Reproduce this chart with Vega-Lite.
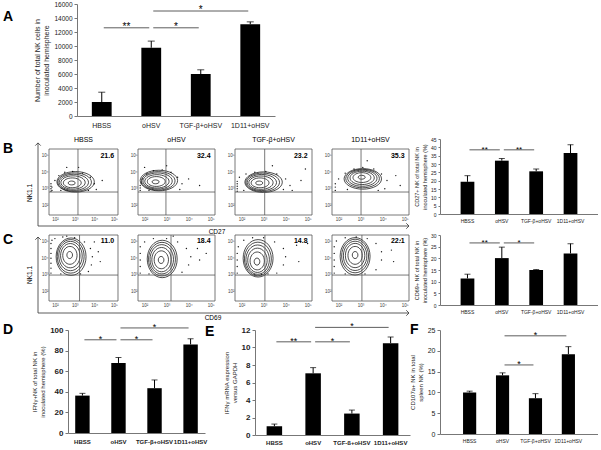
{
"$schema": "https://vega.github.io/schema/vega-lite/v6.json",
"padding": {"left": 3, "top": 1, "right": 0, "bottom": 0},
"background": "white",
"config": {
  "font": "Liberation Sans",
  "view": {"stroke": null},
  "mark": {"color": "#000"},
  "text": {"color": "#000"},
  "axis": {"grid": false, "labelColor": "#222", "titleColor": "#222", "domainColor": "#777", "tickColor": "#777", "titleFontWeight": "normal", "labelOverlap": false, "labelFlush": false}
},
"datasets": {
  "one": [{"k": 1}],
  "bars": [
    {"panel": "A", "group": "HBSS", "value": 2000, "upper": 3400},
    {"panel": "A", "group": "oHSV", "value": 9750, "upper": 10700},
    {"panel": "A", "group": "TGF-β+oHSV", "value": 6000, "upper": 6600},
    {"panel": "A", "group": "1D11+oHSV", "value": 13100, "upper": 13450},
    {"panel": "B", "group": "HBSS", "value": 19.3, "upper": 23},
    {"panel": "B", "group": "oHSV", "value": 32, "upper": 33.3},
    {"panel": "B", "group": "TGF-β+oHSV", "value": 25.6, "upper": 27},
    {"panel": "B", "group": "1D11+oHSV", "value": 36.6, "upper": 41.6},
    {"panel": "C", "group": "HBSS", "value": 11.4, "upper": 13.2},
    {"panel": "C", "group": "oHSV", "value": 20.1, "upper": 24.8},
    {"panel": "C", "group": "TGF-β+oHSV", "value": 15, "upper": 15.2},
    {"panel": "C", "group": "1D11+oHSV", "value": 22.1, "upper": 26.3},
    {"panel": "D", "group": "HBSS", "value": 36.3, "upper": 38.5},
    {"panel": "D", "group": "oHSV", "value": 68, "upper": 73.3},
    {"panel": "D", "group": "TGF-β+oHSV", "value": 43.5, "upper": 51.5},
    {"panel": "D", "group": "1D11+oHSV", "value": 86, "upper": 91.5},
    {"panel": "E", "group": "HBSS", "value": 1.0, "upper": 1.25},
    {"panel": "E", "group": "oHSV", "value": 7.05, "upper": 7.7},
    {"panel": "E", "group": "TGF-β+oHSV", "value": 2.45, "upper": 2.85},
    {"panel": "E", "group": "1D11+oHSV", "value": 10.5, "upper": 11.2},
    {"panel": "F", "group": "HBSS", "value": 10, "upper": 10.3},
    {"panel": "F", "group": "oHSV", "value": 14.1, "upper": 14.7},
    {"panel": "F", "group": "TGF-β+oHSV", "value": 8.6, "upper": 9.7},
    {"panel": "F", "group": "1D11+oHSV", "value": 19.2, "upper": 21}
  ],
  "sig": [
    {"panel": "A", "from": "HBSS", "to": "oHSV", "y": 12600, "label": "**", "at": "HBSS", "kind": "adj"},
    {"panel": "A", "from": "oHSV", "to": "TGF-β+oHSV", "y": 12600, "label": "*", "at": "oHSV", "kind": "adj"},
    {"panel": "A", "from": "oHSV", "to": "1D11+oHSV", "y": 15000, "label": "*", "at": "TGF-β+oHSV", "kind": "mid"},
    {"panel": "B", "from": "HBSS", "to": "oHSV", "y": 38.5, "label": "**", "at": "HBSS", "kind": "adj"},
    {"panel": "B", "from": "oHSV", "to": "TGF-β+oHSV", "y": 38.5, "label": "**", "at": "oHSV", "kind": "adj"},
    {"panel": "C", "from": "HBSS", "to": "oHSV", "y": 26.6, "label": "**", "at": "HBSS", "kind": "adj"},
    {"panel": "C", "from": "oHSV", "to": "TGF-β+oHSV", "y": 26.6, "label": "*", "at": "oHSV", "kind": "adj"},
    {"panel": "D", "from": "HBSS", "to": "oHSV", "y": 90.5, "label": "*", "at": "HBSS", "kind": "adj"},
    {"panel": "D", "from": "oHSV", "to": "TGF-β+oHSV", "y": 90.5, "label": "*", "at": "oHSV", "kind": "adj"},
    {"panel": "D", "from": "oHSV", "to": "1D11+oHSV", "y": 102, "label": "*", "at": "TGF-β+oHSV", "kind": "mid"},
    {"panel": "E", "from": "HBSS", "to": "oHSV", "y": 10.65, "label": "**", "at": "HBSS", "kind": "adj"},
    {"panel": "E", "from": "oHSV", "to": "TGF-β+oHSV", "y": 10.65, "label": "*", "at": "oHSV", "kind": "adj"},
    {"panel": "E", "from": "oHSV", "to": "1D11+oHSV", "y": 12.3, "label": "*", "at": "TGF-β+oHSV", "kind": "mid"},
    {"panel": "F", "from": "oHSV", "to": "TGF-β+oHSV", "y": 16.6, "label": "*", "at": "oHSV", "kind": "adj"},
    {"panel": "F", "from": "oHSV", "to": "1D11+oHSV", "y": 23.6, "label": "*", "at": "TGF-β+oHSV", "kind": "mid"}
  ],
  "gates": [
    {"plot": "B1", "gx": 3.17, "gy": 2.8, "pct": "21.6", "title": "HBSS"},
    {"plot": "B2", "gx": 2.97, "gy": 2.8, "pct": "32.4", "title": "oHSV"},
    {"plot": "B3", "gx": 3.05, "gy": 2.8, "pct": "23.2", "title": "TGF-β+oHSV"},
    {"plot": "B4", "gx": 3.02, "gy": 2.8, "pct": "35.3", "title": "1D11+oHSV"},
    {"plot": "C1", "gx": 3.25, "gy": 2.98, "pct": "11.0", "title": ""},
    {"plot": "C2", "gx": 3.2, "gy": 2.98, "pct": "18.4", "title": ""},
    {"plot": "C3", "gx": 3.06, "gy": 2.98, "pct": "14.8", "title": ""},
    {"plot": "C4", "gx": 3.06, "gy": 2.98, "pct": "22.1", "title": ""}
  ],
  "contours": [
    {"plot": "B1", "cx": 3.05, "cy": 3.42, "level": 1}, {"plot": "B1", "cx": 3.0, "cy": 3.4, "level": 2}, {"plot": "B1", "cx": 2.96, "cy": 3.39, "level": 3}, {"plot": "B1", "cx": 2.92, "cy": 3.38, "level": 4}, {"plot": "B1", "cx": 2.88, "cy": 3.36, "level": 5}, {"plot": "B1", "cx": 2.85, "cy": 3.35, "level": 6},
    {"plot": "B2", "cx": 2.65, "cy": 3.5, "level": 1}, {"plot": "B2", "cx": 2.62, "cy": 3.48, "level": 2}, {"plot": "B2", "cx": 2.59, "cy": 3.47, "level": 3}, {"plot": "B2", "cx": 2.56, "cy": 3.45, "level": 4}, {"plot": "B2", "cx": 2.53, "cy": 3.44, "level": 5}, {"plot": "B2", "cx": 2.5, "cy": 3.42, "level": 6},
    {"plot": "B3", "cx": 3.0, "cy": 3.4, "level": 1}, {"plot": "B3", "cx": 2.96, "cy": 3.39, "level": 2}, {"plot": "B3", "cx": 2.92, "cy": 3.38, "level": 3}, {"plot": "B3", "cx": 2.88, "cy": 3.37, "level": 4}, {"plot": "B3", "cx": 2.84, "cy": 3.36, "level": 5}, {"plot": "B3", "cx": 2.8, "cy": 3.35, "level": 6},
    {"plot": "B4", "cx": 3.1, "cy": 3.6, "level": 1}, {"plot": "B4", "cx": 3.09, "cy": 3.62, "level": 2}, {"plot": "B4", "cx": 3.08, "cy": 3.64, "level": 3}, {"plot": "B4", "cx": 3.07, "cy": 3.66, "level": 4}, {"plot": "B4", "cx": 3.06, "cy": 3.68, "level": 5}, {"plot": "B4", "cx": 3.05, "cy": 3.7, "level": 6},
    {"plot": "C1", "cx": 2.82, "cy": 4.1, "level": 1}, {"plot": "C1", "cx": 2.8, "cy": 4.12, "level": 2}, {"plot": "C1", "cx": 2.79, "cy": 4.14, "level": 3}, {"plot": "C1", "cx": 2.78, "cy": 4.16, "level": 4}, {"plot": "C1", "cx": 2.76, "cy": 4.18, "level": 5}, {"plot": "C1", "cx": 2.75, "cy": 4.2, "level": 6},
    {"plot": "C2", "cx": 2.8, "cy": 3.96, "level": 1}, {"plot": "C2", "cx": 2.79, "cy": 3.95, "level": 2}, {"plot": "C2", "cx": 2.78, "cy": 3.94, "level": 3}, {"plot": "C2", "cx": 2.77, "cy": 3.92, "level": 4}, {"plot": "C2", "cx": 2.76, "cy": 3.91, "level": 5}, {"plot": "C2", "cx": 2.75, "cy": 3.9, "level": 6},
    {"plot": "C3", "cx": 2.75, "cy": 4.0, "level": 1}, {"plot": "C3", "cx": 2.74, "cy": 3.96, "level": 2}, {"plot": "C3", "cx": 2.73, "cy": 3.92, "level": 3}, {"plot": "C3", "cx": 2.72, "cy": 3.88, "level": 4}, {"plot": "C3", "cx": 2.71, "cy": 3.84, "level": 5}, {"plot": "C3", "cx": 2.7, "cy": 3.8, "level": 6},
    {"plot": "C4", "cx": 2.75, "cy": 4.12, "level": 1}, {"plot": "C4", "cx": 2.75, "cy": 4.14, "level": 2}, {"plot": "C4", "cx": 2.75, "cy": 4.15, "level": 3}, {"plot": "C4", "cx": 2.75, "cy": 4.17, "level": 4}, {"plot": "C4", "cx": 2.75, "cy": 4.18, "level": 5}, {"plot": "C4", "cx": 2.75, "cy": 4.2, "level": 6}
  ],
  "dots": [
    {"plot": "B1", "x": 1.8, "y": 2.85}, {"plot": "B1", "x": 1.8, "y": 3.0}, {"plot": "B1", "x": 1.8, "y": 3.15}, {"plot": "B1", "x": 1.8, "y": 3.3}, {"plot": "B1", "x": 1.85, "y": 2.9}, {"plot": "B1", "x": 1.85, "y": 3.1}, {"plot": "B1", "x": 2.0, "y": 3.5}, {"plot": "B1", "x": 2.2, "y": 3.8}, {"plot": "B1", "x": 2.5, "y": 4.0}, {"plot": "B1", "x": 2.9, "y": 4.05}, {"plot": "B1", "x": 3.4, "y": 3.95}, {"plot": "B1", "x": 3.8, "y": 3.7}, {"plot": "B1", "x": 4.0, "y": 3.3}, {"plot": "B1", "x": 4.1, "y": 2.95}, {"plot": "B1", "x": 3.7, "y": 2.9}, {"plot": "B1", "x": 2.3, "y": 2.9}, {"plot": "B1", "x": 4.4, "y": 3.5}, {"plot": "B1", "x": 3.2, "y": 4.3}, {"plot": "B1", "x": 2.6, "y": 4.3},
    {"plot": "B2", "x": 1.8, "y": 2.9}, {"plot": "B2", "x": 1.8, "y": 3.05}, {"plot": "B2", "x": 1.8, "y": 3.2}, {"plot": "B2", "x": 1.85, "y": 3.35}, {"plot": "B2", "x": 1.9, "y": 3.6}, {"plot": "B2", "x": 2.1, "y": 3.9}, {"plot": "B2", "x": 2.4, "y": 4.1}, {"plot": "B2", "x": 2.8, "y": 4.15}, {"plot": "B2", "x": 3.2, "y": 4.0}, {"plot": "B2", "x": 3.5, "y": 3.7}, {"plot": "B2", "x": 3.7, "y": 3.3}, {"plot": "B2", "x": 3.6, "y": 2.95}, {"plot": "B2", "x": 2.2, "y": 2.9}, {"plot": "B2", "x": 4.0, "y": 3.6}, {"plot": "B2", "x": 3.0, "y": 4.4}, {"plot": "B2", "x": 2.0, "y": 4.3}, {"plot": "B2", "x": 4.5, "y": 3.2},
    {"plot": "B3", "x": 1.8, "y": 2.85}, {"plot": "B3", "x": 1.8, "y": 3.0}, {"plot": "B3", "x": 1.8, "y": 3.15}, {"plot": "B3", "x": 1.8, "y": 3.3}, {"plot": "B3", "x": 1.8, "y": 3.45}, {"plot": "B3", "x": 1.9, "y": 3.7}, {"plot": "B3", "x": 2.2, "y": 3.9}, {"plot": "B3", "x": 2.6, "y": 4.0}, {"plot": "B3", "x": 3.1, "y": 4.05}, {"plot": "B3", "x": 3.6, "y": 3.9}, {"plot": "B3", "x": 4.0, "y": 3.6}, {"plot": "B3", "x": 4.2, "y": 3.2}, {"plot": "B3", "x": 4.3, "y": 2.9}, {"plot": "B3", "x": 3.9, "y": 2.95}, {"plot": "B3", "x": 2.1, "y": 2.9}, {"plot": "B3", "x": 4.7, "y": 3.5}, {"plot": "B3", "x": 4.9, "y": 4.2}, {"plot": "B3", "x": 3.4, "y": 4.4},
    {"plot": "B4", "x": 1.85, "y": 2.9}, {"plot": "B4", "x": 1.85, "y": 3.1}, {"plot": "B4", "x": 1.85, "y": 3.3}, {"plot": "B4", "x": 2.0, "y": 3.6}, {"plot": "B4", "x": 2.3, "y": 3.95}, {"plot": "B4", "x": 2.7, "y": 4.2}, {"plot": "B4", "x": 3.1, "y": 4.3}, {"plot": "B4", "x": 3.6, "y": 4.2}, {"plot": "B4", "x": 3.95, "y": 3.9}, {"plot": "B4", "x": 4.2, "y": 3.5}, {"plot": "B4", "x": 4.1, "y": 3.0}, {"plot": "B4", "x": 3.8, "y": 2.9}, {"plot": "B4", "x": 2.4, "y": 2.95}, {"plot": "B4", "x": 4.6, "y": 3.8}, {"plot": "B4", "x": 3.3, "y": 4.7}, {"plot": "B4", "x": 4.8, "y": 3.2},
    {"plot": "C1", "x": 1.8, "y": 3.1}, {"plot": "C1", "x": 1.8, "y": 3.4}, {"plot": "C1", "x": 1.8, "y": 3.7}, {"plot": "C1", "x": 1.8, "y": 4.0}, {"plot": "C1", "x": 1.8, "y": 4.3}, {"plot": "C1", "x": 1.8, "y": 4.6}, {"plot": "C1", "x": 1.8, "y": 4.9}, {"plot": "C1", "x": 1.85, "y": 5.1}, {"plot": "C1", "x": 2.0, "y": 5.2}, {"plot": "C1", "x": 2.4, "y": 5.3}, {"plot": "C1", "x": 3.0, "y": 5.25}, {"plot": "C1", "x": 3.5, "y": 5.0}, {"plot": "C1", "x": 3.8, "y": 4.6}, {"plot": "C1", "x": 3.9, "y": 4.1}, {"plot": "C1", "x": 3.85, "y": 3.6}, {"plot": "C1", "x": 3.7, "y": 3.2}, {"plot": "C1", "x": 3.3, "y": 3.05}, {"plot": "C1", "x": 2.3, "y": 3.05}, {"plot": "C1", "x": 4.2, "y": 4.4}, {"plot": "C1", "x": 4.3, "y": 3.8}, {"plot": "C1", "x": 2.6, "y": 5.35}, {"plot": "C1", "x": 4.0, "y": 5.0},
    {"plot": "C2", "x": 1.8, "y": 3.1}, {"plot": "C2", "x": 1.8, "y": 3.5}, {"plot": "C2", "x": 1.8, "y": 3.9}, {"plot": "C2", "x": 1.8, "y": 4.3}, {"plot": "C2", "x": 1.8, "y": 4.7}, {"plot": "C2", "x": 2.0, "y": 5.0}, {"plot": "C2", "x": 2.4, "y": 5.2}, {"plot": "C2", "x": 3.0, "y": 5.2}, {"plot": "C2", "x": 3.5, "y": 5.0}, {"plot": "C2", "x": 3.9, "y": 4.6}, {"plot": "C2", "x": 4.1, "y": 4.1}, {"plot": "C2", "x": 4.0, "y": 3.6}, {"plot": "C2", "x": 3.7, "y": 3.15}, {"plot": "C2", "x": 2.2, "y": 3.05}, {"plot": "C2", "x": 4.4, "y": 4.6}, {"plot": "C2", "x": 4.5, "y": 3.9}, {"plot": "C2", "x": 3.3, "y": 5.35}, {"plot": "C2", "x": 4.8, "y": 4.3},
    {"plot": "C3", "x": 1.8, "y": 3.1}, {"plot": "C3", "x": 1.8, "y": 3.5}, {"plot": "C3", "x": 1.8, "y": 3.9}, {"plot": "C3", "x": 1.8, "y": 4.3}, {"plot": "C3", "x": 1.85, "y": 4.7}, {"plot": "C3", "x": 2.1, "y": 5.1}, {"plot": "C3", "x": 2.5, "y": 5.25}, {"plot": "C3", "x": 3.0, "y": 5.25}, {"plot": "C3", "x": 3.5, "y": 5.0}, {"plot": "C3", "x": 3.9, "y": 4.6}, {"plot": "C3", "x": 4.0, "y": 4.1}, {"plot": "C3", "x": 3.9, "y": 3.6}, {"plot": "C3", "x": 3.6, "y": 3.1}, {"plot": "C3", "x": 2.6, "y": 3.0}, {"plot": "C3", "x": 2.9, "y": 3.02}, {"plot": "C3", "x": 3.2, "y": 3.05}, {"plot": "C3", "x": 4.5, "y": 4.8}, {"plot": "C3", "x": 4.6, "y": 3.8}, {"plot": "C3", "x": 5.0, "y": 4.9},
    {"plot": "C4", "x": 1.8, "y": 3.1}, {"plot": "C4", "x": 1.8, "y": 3.5}, {"plot": "C4", "x": 1.8, "y": 3.9}, {"plot": "C4", "x": 1.8, "y": 4.3}, {"plot": "C4", "x": 1.8, "y": 4.7}, {"plot": "C4", "x": 1.9, "y": 5.05}, {"plot": "C4", "x": 2.3, "y": 5.25}, {"plot": "C4", "x": 2.8, "y": 5.3}, {"plot": "C4", "x": 3.3, "y": 5.2}, {"plot": "C4", "x": 3.7, "y": 4.9}, {"plot": "C4", "x": 3.95, "y": 4.4}, {"plot": "C4", "x": 3.95, "y": 3.9}, {"plot": "C4", "x": 3.7, "y": 3.3}, {"plot": "C4", "x": 3.2, "y": 3.05}, {"plot": "C4", "x": 2.3, "y": 3.05}, {"plot": "C4", "x": 4.4, "y": 4.5}, {"plot": "C4", "x": 4.5, "y": 3.8}, {"plot": "C4", "x": 4.8, "y": 5.1}
  ]
},
"vconcat": [
 {"vconcat": [
  {"hconcat": [
    {"width": 74, "height": 112, "data": {"name": "one"},
     "mark": {"type": "text", "text": "A", "fontSize": 14, "fontWeight": "bold", "align": "left", "baseline": "middle"},
     "encoding": {"x": {"datum": 0, "type": "quantitative", "scale": {"domain": [0, 1]}, "axis": null}, "y": {"datum": 0.88, "type": "quantitative", "scale": {"domain": [0, 1]}, "axis": null}}},
    {"width": 198, "height": 112,
     "resolve": {"axis": {"x": "independent", "y": "independent"}},
     "layer": [
       {"data": {"name": "bars"}, "transform": [{"filter": "datum.panel==='A'"}], "mark": {"type": "bar", "color": "#000"},
        "encoding": {"x": {"field": "group", "type": "nominal", "sort": null, "scale": {"domain": ["HBSS", "oHSV", "TGF-β+oHSV", "1D11+oHSV"], "paddingInner": 0.6, "paddingOuter": 0.3}, "axis": {"title": null, "ticks": false, "labelAngle": 0, "labelFontSize": 7, "labelPadding": 5, "labelOverlap": false, "orient": "bottom"}},
                     "y": {"field": "value", "type": "quantitative", "scale": {"domain": [0, 16000], "nice": false}, "axis": {"values": [0, 2000, 4000, 6000, 8000, 10000, 12000, 14000, 16000], "format": "d", "labelFontSize": 6.5, "tickSize": 3, "labelOverlap": false, "orient": "left", "title": ["Number of total NK cells in", "inoculated hemisphere"], "titleFontSize": 7, "titlePadding": 4}}}},
       {"data": {"name": "bars"}, "transform": [{"filter": "datum.panel==='A'"}], "mark": {"type": "rule", "color": "#000", "strokeWidth": 1},
        "encoding": {"x": {"field": "group", "type": "nominal", "sort": null, "axis": null}, "y": {"field": "value", "type": "quantitative", "axis": null}, "y2": {"field": "upper"}}},
       {"data": {"name": "bars"}, "transform": [{"filter": "datum.panel==='A'"}], "mark": {"type": "tick", "color": "#000", "size": 7, "thickness": 1},
        "encoding": {"x": {"field": "group", "type": "nominal", "sort": null, "axis": null}, "y": {"field": "upper", "type": "quantitative", "axis": null}}},
       {"data": {"name": "sig"}, "transform": [{"filter": "datum.panel==='A'"}], "mark": {"type": "rule", "color": "#333", "strokeWidth": 0.8, "xOffset": 2, "x2Offset": -2},
        "encoding": {"x": {"field": "from", "type": "nominal", "sort": null, "bandPosition": 0.5, "axis": null}, "x2": {"field": "to", "bandPosition": 0.5}, "y": {"field": "y", "type": "quantitative", "axis": null}}},
       {"data": {"name": "sig"}, "transform": [{"filter": "datum.panel==='A' && datum.kind==='adj'"}], "mark": {"type": "text", "color": "#000", "fontSize": 10, "baseline": "alphabetic", "dy": 2},
        "encoding": {"x": {"field": "at", "type": "nominal", "sort": null, "bandPosition": 1.75, "axis": null}, "y": {"field": "y", "type": "quantitative", "axis": null}, "text": {"field": "label"}}},
       {"data": {"name": "sig"}, "transform": [{"filter": "datum.panel==='A' && datum.kind==='mid'"}], "mark": {"type": "text", "color": "#000", "fontSize": 10, "baseline": "alphabetic", "dy": 2},
        "encoding": {"x": {"field": "at", "type": "nominal", "sort": null, "bandPosition": 0.5, "axis": null}, "y": {"field": "y", "type": "quantitative", "axis": null}, "text": {"field": "label"}}}
     ]}
   ],
   "spacing": 0, "bounds": "flush"},
  {"concat": [
    {"width": 46, "height": 87, "data": {"name": "one"},
     "layer": [
       {"mark": {"type": "rule", "color": "#333", "strokeWidth": 0.8},
        "encoding": {"x": {"datum": 0.761, "type": "quantitative", "scale": {"domain": [0, 1]}, "axis": null}, "y": {"datum": 0, "type": "quantitative", "scale": {"domain": [0, 1]}, "axis": null}, "y2": {"datum": 0.955}}},
       {"mark": {"type": "rule", "color": "#333", "strokeWidth": 0.8},
        "encoding": {"x": {"datum": 0.761, "type": "quantitative", "scale": {"domain": [0, 1]}, "axis": null}, "x2": {"datum": 8.826}, "y": {"datum": 0, "type": "quantitative", "scale": {"domain": [0, 1]}, "axis": null}}},
       {"mark": {"type": "point", "shape": "M-1,1L0,0L1,1", "filled": false, "stroke": "#333", "strokeWidth": 0.8, "size": 30, "opacity": 1},
        "encoding": {"x": {"datum": 0.761, "type": "quantitative", "scale": {"domain": [0, 1]}, "axis": null}, "y": {"datum": 0.955, "type": "quantitative", "scale": {"domain": [0, 1]}, "axis": null}}},
       {"mark": {"type": "point", "shape": "M-1,-1L0,0L-1,1", "filled": false, "stroke": "#333", "strokeWidth": 0.8, "size": 30, "opacity": 1},
        "encoding": {"x": {"datum": 8.826, "type": "quantitative", "scale": {"domain": [0, 1]}, "axis": null}, "y": {"datum": 0, "type": "quantitative", "scale": {"domain": [0, 1]}, "axis": null}}},
       {"mark": {"type": "text", "text": "B", "fontSize": 14, "fontWeight": "bold", "align": "left", "baseline": "middle"},
        "encoding": {"x": {"datum": 0, "type": "quantitative", "scale": {"domain": [0, 1]}, "axis": null}, "y": {"datum": 0.885, "type": "quantitative", "scale": {"domain": [0, 1]}, "axis": null}}},
       {"mark": {"type": "text", "text": "NK1.1", "fontSize": 6.5, "angle": 270, "align": "center", "baseline": "middle"},
        "encoding": {"x": {"datum": 0.587, "type": "quantitative", "scale": {"domain": [0, 1]}, "axis": null}, "y": {"datum": 0.379, "type": "quantitative", "scale": {"domain": [0, 1]}, "axis": null}}},
       {"mark": {"type": "text", "text": "CD27", "fontSize": 6.5, "baseline": "top", "dy": 3},
        "encoding": {"x": {"datum": 4.652, "type": "quantitative", "scale": {"domain": [0, 1]}, "axis": null}, "y": {"datum": 0, "type": "quantitative", "scale": {"domain": [0, 1]}, "axis": null}}}
     ]},
    {"width": 89, "height": 76, "resolve": {"axis": {"x": "independent", "y": "independent"}},
     "layer": [
       {"data": {"name": "one"}, "mark": {"type": "rect", "fillOpacity": 0, "stroke": "#555", "strokeWidth": 0.8},
        "encoding": {"x": {"datum": 1.7, "type": "quantitative", "scale": {"domain": [1.7, 6.215], "nice": false, "zero": false}, "axis": {"orient": "bottom", "values": [2, 3, 4, 5], "labelExpr": "'10' + ['⁰','¹','²','³','⁴','⁵'][datum.value]", "labelFontSize": 4.5, "domain": false, "ticks": false, "labelPadding": 1, "labelOverlap": false, "title": null, "labelColor": "#444"}},
                     "x2": {"datum": 5.2},
                     "y": {"datum": 1.4, "type": "quantitative", "scale": {"domain": [1.4, 6.03], "nice": false, "zero": false}, "axis": {"orient": "left", "values": [2, 3, 4, 5], "labelExpr": "'10' + ['⁰','¹','²','³','⁴','⁵'][datum.value]", "labelFontSize": 4.5, "domain": false, "ticks": false, "labelPadding": 1, "labelOverlap": false, "title": null, "labelColor": "#444"}},
                     "y2": {"datum": 5.42}}},
       {"data": {"name": "contours"}, "transform": [{"filter": "datum.plot==='B1'"}], "mark": {"type": "point", "shape": "M-1,0A1,0.55,0,1,1,1,0A1,0.55,0,1,1,-1,0Z", "filled": false, "stroke": "#000", "strokeWidth": 0.7, "opacity": 1},
        "encoding": {"x": {"field": "cx", "type": "quantitative", "axis": null}, "y": {"field": "cy", "type": "quantitative", "axis": null}, "size": {"field": "level", "type": "quantitative", "scale": {"domain": [1, 6], "range": [1400, 50]}, "legend": null}}},
       {"data": {"name": "dots"}, "transform": [{"filter": "datum.plot==='B1'"}], "mark": {"type": "circle", "size": 2, "color": "#000", "opacity": 0.9},
        "encoding": {"x": {"field": "x", "type": "quantitative", "axis": null}, "y": {"field": "y", "type": "quantitative", "axis": null}}},
       {"data": {"name": "gates"}, "transform": [{"filter": "datum.plot==='B1'"}], "mark": {"type": "rule", "color": "#555", "strokeWidth": 0.8},
        "encoding": {"x": {"field": "gx", "type": "quantitative", "axis": null}, "y": {"datum": 1.4, "type": "quantitative", "axis": null}, "y2": {"datum": 5.42}}},
       {"data": {"name": "gates"}, "transform": [{"filter": "datum.plot==='B1'"}], "mark": {"type": "rule", "color": "#555", "strokeWidth": 0.8},
        "encoding": {"y": {"field": "gy", "type": "quantitative", "axis": null}, "x": {"datum": 1.7, "type": "quantitative", "axis": null}, "x2": {"datum": 5.2}}},
       {"data": {"name": "gates"}, "transform": [{"filter": "datum.plot==='B1'"}], "mark": {"type": "text", "align": "right", "baseline": "middle", "fontSize": 7, "fontWeight": "bold"},
        "encoding": {"x": {"datum": 5.0, "type": "quantitative", "axis": null}, "y": {"datum": 5.0, "type": "quantitative", "axis": null}, "text": {"field": "pct"}}},
       {"data": {"name": "gates"}, "transform": [{"filter": "datum.plot==='B1'"}], "mark": {"type": "text", "align": "center", "baseline": "middle", "fontSize": 7},
        "encoding": {"x": {"datum": 3.45, "type": "quantitative", "axis": null}, "y": {"datum": 5.95, "type": "quantitative", "axis": null}, "text": {"field": "title"}}}
     ]},
    {"width": 97, "height": 76, "resolve": {"axis": {"x": "independent", "y": "independent"}},
     "layer": [
       {"data": {"name": "one"}, "mark": {"type": "rect", "fillOpacity": 0, "stroke": "#555", "strokeWidth": 0.8},
        "encoding": {"x": {"datum": 1.7, "type": "quantitative", "scale": {"domain": [1.7, 6.109], "nice": false, "zero": false}, "axis": {"orient": "bottom", "values": [2, 3, 4, 5], "labelExpr": "'10' + ['⁰','¹','²','³','⁴','⁵'][datum.value]", "labelFontSize": 4.5, "domain": false, "ticks": false, "labelPadding": 1, "labelOverlap": false, "title": null, "labelColor": "#444"}},
                     "x2": {"datum": 5.2},
                     "y": {"datum": 1.4, "type": "quantitative", "scale": {"domain": [1.4, 6.03], "nice": false, "zero": false}, "axis": {"orient": "left", "values": [2, 3, 4, 5], "labelExpr": "'10' + ['⁰','¹','²','³','⁴','⁵'][datum.value]", "labelFontSize": 4.5, "domain": false, "ticks": false, "labelPadding": 1, "labelOverlap": false, "title": null, "labelColor": "#444"}},
                     "y2": {"datum": 5.42}}},
       {"data": {"name": "contours"}, "transform": [{"filter": "datum.plot==='B2'"}], "mark": {"type": "point", "shape": "M-1,0A1,0.55,0,1,1,1,0A1,0.55,0,1,1,-1,0Z", "filled": false, "stroke": "#000", "strokeWidth": 0.7, "opacity": 1},
        "encoding": {"x": {"field": "cx", "type": "quantitative", "axis": null}, "y": {"field": "cy", "type": "quantitative", "axis": null}, "size": {"field": "level", "type": "quantitative", "scale": {"domain": [1, 6], "range": [1400, 50]}, "legend": null}}},
       {"data": {"name": "dots"}, "transform": [{"filter": "datum.plot==='B2'"}], "mark": {"type": "circle", "size": 2, "color": "#000", "opacity": 0.9},
        "encoding": {"x": {"field": "x", "type": "quantitative", "axis": null}, "y": {"field": "y", "type": "quantitative", "axis": null}}},
       {"data": {"name": "gates"}, "transform": [{"filter": "datum.plot==='B2'"}], "mark": {"type": "rule", "color": "#555", "strokeWidth": 0.8},
        "encoding": {"x": {"field": "gx", "type": "quantitative", "axis": null}, "y": {"datum": 1.4, "type": "quantitative", "axis": null}, "y2": {"datum": 5.42}}},
       {"data": {"name": "gates"}, "transform": [{"filter": "datum.plot==='B2'"}], "mark": {"type": "rule", "color": "#555", "strokeWidth": 0.8},
        "encoding": {"y": {"field": "gy", "type": "quantitative", "axis": null}, "x": {"datum": 1.7, "type": "quantitative", "axis": null}, "x2": {"datum": 5.2}}},
       {"data": {"name": "gates"}, "transform": [{"filter": "datum.plot==='B2'"}], "mark": {"type": "text", "align": "right", "baseline": "middle", "fontSize": 7, "fontWeight": "bold"},
        "encoding": {"x": {"datum": 5.0, "type": "quantitative", "axis": null}, "y": {"datum": 5.0, "type": "quantitative", "axis": null}, "text": {"field": "pct"}}},
       {"data": {"name": "gates"}, "transform": [{"filter": "datum.plot==='B2'"}], "mark": {"type": "text", "align": "center", "baseline": "middle", "fontSize": 7},
        "encoding": {"x": {"datum": 3.45, "type": "quantitative", "axis": null}, "y": {"datum": 5.95, "type": "quantitative", "axis": null}, "text": {"field": "title"}}}
     ]},
    {"width": 97, "height": 76, "resolve": {"axis": {"x": "independent", "y": "independent"}},
     "layer": [
       {"data": {"name": "one"}, "mark": {"type": "rect", "fillOpacity": 0, "stroke": "#555", "strokeWidth": 0.8},
        "encoding": {"x": {"datum": 1.7, "type": "quantitative", "scale": {"domain": [1.7, 6.109], "nice": false, "zero": false}, "axis": {"orient": "bottom", "values": [2, 3, 4, 5], "labelExpr": "'10' + ['⁰','¹','²','³','⁴','⁵'][datum.value]", "labelFontSize": 4.5, "domain": false, "ticks": false, "labelPadding": 1, "labelOverlap": false, "title": null, "labelColor": "#444"}},
                     "x2": {"datum": 5.2},
                     "y": {"datum": 1.4, "type": "quantitative", "scale": {"domain": [1.4, 6.03], "nice": false, "zero": false}, "axis": {"orient": "left", "values": [2, 3, 4, 5], "labelExpr": "'10' + ['⁰','¹','²','³','⁴','⁵'][datum.value]", "labelFontSize": 4.5, "domain": false, "ticks": false, "labelPadding": 1, "labelOverlap": false, "title": null, "labelColor": "#444"}},
                     "y2": {"datum": 5.42}}},
       {"data": {"name": "contours"}, "transform": [{"filter": "datum.plot==='B3'"}], "mark": {"type": "point", "shape": "M-1,0A1,0.55,0,1,1,1,0A1,0.55,0,1,1,-1,0Z", "filled": false, "stroke": "#000", "strokeWidth": 0.7, "opacity": 1},
        "encoding": {"x": {"field": "cx", "type": "quantitative", "axis": null}, "y": {"field": "cy", "type": "quantitative", "axis": null}, "size": {"field": "level", "type": "quantitative", "scale": {"domain": [1, 6], "range": [1600, 50]}, "legend": null}}},
       {"data": {"name": "dots"}, "transform": [{"filter": "datum.plot==='B3'"}], "mark": {"type": "circle", "size": 2, "color": "#000", "opacity": 0.9},
        "encoding": {"x": {"field": "x", "type": "quantitative", "axis": null}, "y": {"field": "y", "type": "quantitative", "axis": null}}},
       {"data": {"name": "gates"}, "transform": [{"filter": "datum.plot==='B3'"}], "mark": {"type": "rule", "color": "#555", "strokeWidth": 0.8},
        "encoding": {"x": {"field": "gx", "type": "quantitative", "axis": null}, "y": {"datum": 1.4, "type": "quantitative", "axis": null}, "y2": {"datum": 5.42}}},
       {"data": {"name": "gates"}, "transform": [{"filter": "datum.plot==='B3'"}], "mark": {"type": "rule", "color": "#555", "strokeWidth": 0.8},
        "encoding": {"y": {"field": "gy", "type": "quantitative", "axis": null}, "x": {"datum": 1.7, "type": "quantitative", "axis": null}, "x2": {"datum": 5.2}}},
       {"data": {"name": "gates"}, "transform": [{"filter": "datum.plot==='B3'"}], "mark": {"type": "text", "align": "right", "baseline": "middle", "fontSize": 7, "fontWeight": "bold"},
        "encoding": {"x": {"datum": 5.0, "type": "quantitative", "axis": null}, "y": {"datum": 5.0, "type": "quantitative", "axis": null}, "text": {"field": "pct"}}},
       {"data": {"name": "gates"}, "transform": [{"filter": "datum.plot==='B3'"}], "mark": {"type": "text", "align": "center", "baseline": "middle", "fontSize": 7},
        "encoding": {"x": {"datum": 3.45, "type": "quantitative", "axis": null}, "y": {"datum": 5.95, "type": "quantitative", "axis": null}, "text": {"field": "title"}}}
     ]},
    {"width": 108, "height": 76, "resolve": {"axis": {"x": "independent", "y": "independent"}},
     "layer": [
       {"data": {"name": "one"}, "mark": {"type": "rect", "fillOpacity": 0, "stroke": "#555", "strokeWidth": 0.8},
        "encoding": {"x": {"datum": 1.7, "type": "quantitative", "scale": {"domain": [1.7, 6.609], "nice": false, "zero": false}, "axis": {"orient": "bottom", "values": [2, 3, 4, 5], "labelExpr": "'10' + ['⁰','¹','²','³','⁴','⁵'][datum.value]", "labelFontSize": 4.5, "domain": false, "ticks": false, "labelPadding": 1, "labelOverlap": false, "title": null, "labelColor": "#444"}},
                     "x2": {"datum": 5.2},
                     "y": {"datum": 1.4, "type": "quantitative", "scale": {"domain": [1.4, 6.03], "nice": false, "zero": false}, "axis": {"orient": "left", "values": [2, 3, 4, 5], "labelExpr": "'10' + ['⁰','¹','²','³','⁴','⁵'][datum.value]", "labelFontSize": 4.5, "domain": false, "ticks": false, "labelPadding": 1, "labelOverlap": false, "title": null, "labelColor": "#444"}},
                     "y2": {"datum": 5.42}}},
       {"data": {"name": "contours"}, "transform": [{"filter": "datum.plot==='B4'"}], "mark": {"type": "point", "shape": "M-1,0A1,0.55,0,1,1,1,0A1,0.55,0,1,1,-1,0Z", "filled": false, "stroke": "#000", "strokeWidth": 0.7, "opacity": 1},
        "encoding": {"x": {"field": "cx", "type": "quantitative", "axis": null}, "y": {"field": "cy", "type": "quantitative", "axis": null}, "size": {"field": "level", "type": "quantitative", "scale": {"domain": [1, 6], "range": [1400, 50]}, "legend": null}}},
       {"data": {"name": "dots"}, "transform": [{"filter": "datum.plot==='B4'"}], "mark": {"type": "circle", "size": 2, "color": "#000", "opacity": 0.9},
        "encoding": {"x": {"field": "x", "type": "quantitative", "axis": null}, "y": {"field": "y", "type": "quantitative", "axis": null}}},
       {"data": {"name": "gates"}, "transform": [{"filter": "datum.plot==='B4'"}], "mark": {"type": "rule", "color": "#555", "strokeWidth": 0.8},
        "encoding": {"x": {"field": "gx", "type": "quantitative", "axis": null}, "y": {"datum": 1.4, "type": "quantitative", "axis": null}, "y2": {"datum": 5.42}}},
       {"data": {"name": "gates"}, "transform": [{"filter": "datum.plot==='B4'"}], "mark": {"type": "rule", "color": "#555", "strokeWidth": 0.8},
        "encoding": {"y": {"field": "gy", "type": "quantitative", "axis": null}, "x": {"datum": 1.7, "type": "quantitative", "axis": null}, "x2": {"datum": 5.2}}},
       {"data": {"name": "gates"}, "transform": [{"filter": "datum.plot==='B4'"}], "mark": {"type": "text", "align": "right", "baseline": "middle", "fontSize": 7, "fontWeight": "bold"},
        "encoding": {"x": {"datum": 5.0, "type": "quantitative", "axis": null}, "y": {"datum": 5.0, "type": "quantitative", "axis": null}, "text": {"field": "pct"}}},
       {"data": {"name": "gates"}, "transform": [{"filter": "datum.plot==='B4'"}], "mark": {"type": "text", "align": "center", "baseline": "middle", "fontSize": 7},
        "encoding": {"x": {"datum": 3.45, "type": "quantitative", "axis": null}, "y": {"datum": 5.95, "type": "quantitative", "axis": null}, "text": {"field": "title"}}}
     ]},
    {"width": 158, "height": 75, "resolve": {"axis": {"x": "independent", "y": "independent"}},
     "layer": [
       {"data": {"name": "bars"}, "transform": [{"filter": "datum.panel==='B'"}], "mark": {"type": "bar", "color": "#000"},
        "encoding": {"x": {"field": "group", "type": "nominal", "sort": null, "scale": {"domain": ["HBSS", "oHSV", "TGF-β+oHSV", "1D11+oHSV"], "paddingInner": 0.6, "paddingOuter": 0.6}, "axis": {"orient": "bottom", "title": null, "ticks": false, "labelAngle": 0, "labelFontSize": 5, "labelPadding": 4, "labelOverlap": false}},
                     "y": {"field": "value", "type": "quantitative", "scale": {"domain": [0, 45], "nice": false}, "axis": {"orient": "left", "values": [0, 5, 10, 15, 20, 25, 30, 35, 40, 45], "labelFontSize": 5, "tickSize": 2, "labelOverlap": false, "title": ["CD27+ NK of total NK in", "inoculated hemisphere (%)"], "titleFontSize": 5.5, "titlePadding": 3}}}},
       {"data": {"name": "bars"}, "transform": [{"filter": "datum.panel==='B'"}], "mark": {"type": "rule", "color": "#000"},
        "encoding": {"x": {"field": "group", "type": "nominal", "sort": null, "axis": null}, "y": {"field": "value", "type": "quantitative", "axis": null}, "y2": {"field": "upper"}}},
       {"data": {"name": "bars"}, "transform": [{"filter": "datum.panel==='B'"}], "mark": {"type": "tick", "color": "#000", "size": 6, "thickness": 1},
        "encoding": {"x": {"field": "group", "type": "nominal", "sort": null, "axis": null}, "y": {"field": "upper", "type": "quantitative", "axis": null}}},
       {"data": {"name": "sig"}, "transform": [{"filter": "datum.panel==='B'"}], "mark": {"type": "rule", "color": "#333", "strokeWidth": 0.8, "xOffset": 2, "x2Offset": -2},
        "encoding": {"x": {"field": "from", "type": "nominal", "sort": null, "bandPosition": 0.5, "axis": null}, "x2": {"field": "to", "bandPosition": 0.5}, "y": {"field": "y", "type": "quantitative", "axis": null}}},
       {"data": {"name": "sig"}, "transform": [{"filter": "datum.panel==='B' && datum.kind==='adj'"}], "mark": {"type": "text", "color": "#000", "fontSize": 8, "baseline": "alphabetic", "dy": 2},
        "encoding": {"x": {"field": "at", "type": "nominal", "sort": null, "bandPosition": 1.75, "axis": null}, "y": {"field": "y", "type": "quantitative", "axis": null}, "text": {"field": "label"}}}
     ]},
    {"width": 46, "height": 78, "data": {"name": "one"},
     "layer": [
       {"mark": {"type": "rule", "color": "#333", "strokeWidth": 0.8},
        "encoding": {"x": {"datum": 0.761, "type": "quantitative", "scale": {"domain": [0, 1]}, "axis": null}, "y": {"datum": 0, "type": "quantitative", "scale": {"domain": [0, 1]}, "axis": null}, "y2": {"datum": 0.974}}},
       {"mark": {"type": "rule", "color": "#333", "strokeWidth": 0.8},
        "encoding": {"x": {"datum": 0.761, "type": "quantitative", "scale": {"domain": [0, 1]}, "axis": null}, "x2": {"datum": 8.826}, "y": {"datum": 0, "type": "quantitative", "scale": {"domain": [0, 1]}, "axis": null}}},
       {"mark": {"type": "point", "shape": "M-1,1L0,0L1,1", "filled": false, "stroke": "#333", "strokeWidth": 0.8, "size": 30, "opacity": 1},
        "encoding": {"x": {"datum": 0.761, "type": "quantitative", "scale": {"domain": [0, 1]}, "axis": null}, "y": {"datum": 0.974, "type": "quantitative", "scale": {"domain": [0, 1]}, "axis": null}}},
       {"mark": {"type": "point", "shape": "M-1,-1L0,0L-1,1", "filled": false, "stroke": "#333", "strokeWidth": 0.8, "size": 30, "opacity": 1},
        "encoding": {"x": {"datum": 8.826, "type": "quantitative", "scale": {"domain": [0, 1]}, "axis": null}, "y": {"datum": 0, "type": "quantitative", "scale": {"domain": [0, 1]}, "axis": null}}},
       {"mark": {"type": "text", "text": "C", "fontSize": 14, "fontWeight": "bold", "align": "left", "baseline": "middle"},
        "encoding": {"x": {"datum": 0, "type": "quantitative", "scale": {"domain": [0, 1]}, "axis": null}, "y": {"datum": 0.936, "type": "quantitative", "scale": {"domain": [0, 1]}, "axis": null}}},
       {"mark": {"type": "text", "text": "NK1.1", "fontSize": 6.5, "angle": 270, "align": "center", "baseline": "middle"},
        "encoding": {"x": {"datum": 0.587, "type": "quantitative", "scale": {"domain": [0, 1]}, "axis": null}, "y": {"datum": 0.487, "type": "quantitative", "scale": {"domain": [0, 1]}, "axis": null}}},
       {"mark": {"type": "text", "text": "CD69", "fontSize": 6.5, "baseline": "top", "dy": 2},
        "encoding": {"x": {"datum": 4.565, "type": "quantitative", "scale": {"domain": [0, 1]}, "axis": null}, "y": {"datum": 0, "type": "quantitative", "scale": {"domain": [0, 1]}, "axis": null}}}
     ]},
    {"width": 89, "height": 66, "resolve": {"axis": {"x": "independent", "y": "independent"}},
     "layer": [
       {"data": {"name": "one"}, "mark": {"type": "rect", "fillOpacity": 0, "stroke": "#555", "strokeWidth": 0.8},
        "encoding": {"x": {"datum": 1.7, "type": "quantitative", "scale": {"domain": [1.7, 6.215], "nice": false, "zero": false}, "axis": {"orient": "bottom", "values": [2, 3, 4, 5], "labelExpr": "'10' + ['⁰','¹','²','³','⁴','⁵'][datum.value]", "labelFontSize": 4.5, "domain": false, "ticks": false, "labelPadding": 1, "labelOverlap": false, "title": null, "labelColor": "#444"}},
                     "x2": {"datum": 5.2},
                     "y": {"datum": 1.4, "type": "quantitative", "scale": {"domain": [1.4, 5.42], "nice": false, "zero": false}, "axis": {"orient": "left", "values": [2, 3, 4, 5], "labelExpr": "'10' + ['⁰','¹','²','³','⁴','⁵'][datum.value]", "labelFontSize": 4.5, "domain": false, "ticks": false, "labelPadding": 1, "labelOverlap": false, "title": null, "labelColor": "#444"}},
                     "y2": {"datum": 5.42}}},
       {"data": {"name": "contours"}, "transform": [{"filter": "datum.plot==='C1'"}], "mark": {"type": "point", "shape": "M-0.8,0A0.8,1,0,1,1,0.8,0A0.8,1,0,1,1,-0.8,0Z", "filled": false, "stroke": "#000", "strokeWidth": 0.7, "opacity": 1},
        "encoding": {"x": {"field": "cx", "type": "quantitative", "axis": null}, "y": {"field": "cy", "type": "quantitative", "axis": null}, "size": {"field": "level", "type": "quantitative", "scale": {"domain": [1, 6], "range": [1700, 60]}, "legend": null}}},
       {"data": {"name": "dots"}, "transform": [{"filter": "datum.plot==='C1'"}], "mark": {"type": "circle", "size": 2, "color": "#000", "opacity": 0.9},
        "encoding": {"x": {"field": "x", "type": "quantitative", "axis": null}, "y": {"field": "y", "type": "quantitative", "axis": null}}},
       {"data": {"name": "gates"}, "transform": [{"filter": "datum.plot==='C1'"}], "mark": {"type": "rule", "color": "#555", "strokeWidth": 0.8},
        "encoding": {"x": {"field": "gx", "type": "quantitative", "axis": null}, "y": {"datum": 1.4, "type": "quantitative", "axis": null}, "y2": {"datum": 5.42}}},
       {"data": {"name": "gates"}, "transform": [{"filter": "datum.plot==='C1'"}], "mark": {"type": "rule", "color": "#555", "strokeWidth": 0.8},
        "encoding": {"y": {"field": "gy", "type": "quantitative", "axis": null}, "x": {"datum": 1.7, "type": "quantitative", "axis": null}, "x2": {"datum": 5.2}}},
       {"data": {"name": "gates"}, "transform": [{"filter": "datum.plot==='C1'"}], "mark": {"type": "text", "align": "right", "baseline": "middle", "fontSize": 7, "fontWeight": "bold"},
        "encoding": {"x": {"datum": 5.0, "type": "quantitative", "axis": null}, "y": {"datum": 5.05, "type": "quantitative", "axis": null}, "text": {"field": "pct"}}}
     ]},
    {"width": 97, "height": 66, "resolve": {"axis": {"x": "independent", "y": "independent"}},
     "layer": [
       {"data": {"name": "one"}, "mark": {"type": "rect", "fillOpacity": 0, "stroke": "#555", "strokeWidth": 0.8},
        "encoding": {"x": {"datum": 1.7, "type": "quantitative", "scale": {"domain": [1.7, 6.109], "nice": false, "zero": false}, "axis": {"orient": "bottom", "values": [2, 3, 4, 5], "labelExpr": "'10' + ['⁰','¹','²','³','⁴','⁵'][datum.value]", "labelFontSize": 4.5, "domain": false, "ticks": false, "labelPadding": 1, "labelOverlap": false, "title": null, "labelColor": "#444"}},
                     "x2": {"datum": 5.2},
                     "y": {"datum": 1.4, "type": "quantitative", "scale": {"domain": [1.4, 5.42], "nice": false, "zero": false}, "axis": {"orient": "left", "values": [2, 3, 4, 5], "labelExpr": "'10' + ['⁰','¹','²','³','⁴','⁵'][datum.value]", "labelFontSize": 4.5, "domain": false, "ticks": false, "labelPadding": 1, "labelOverlap": false, "title": null, "labelColor": "#444"}},
                     "y2": {"datum": 5.42}}},
       {"data": {"name": "contours"}, "transform": [{"filter": "datum.plot==='C2'"}], "mark": {"type": "point", "shape": "M-0.8,0A0.8,1,0,1,1,0.8,0A0.8,1,0,1,1,-0.8,0Z", "filled": false, "stroke": "#000", "strokeWidth": 0.7, "opacity": 1},
        "encoding": {"x": {"field": "cx", "type": "quantitative", "axis": null}, "y": {"field": "cy", "type": "quantitative", "axis": null}, "size": {"field": "level", "type": "quantitative", "scale": {"domain": [1, 6], "range": [1800, 60]}, "legend": null}}},
       {"data": {"name": "dots"}, "transform": [{"filter": "datum.plot==='C2'"}], "mark": {"type": "circle", "size": 2, "color": "#000", "opacity": 0.9},
        "encoding": {"x": {"field": "x", "type": "quantitative", "axis": null}, "y": {"field": "y", "type": "quantitative", "axis": null}}},
       {"data": {"name": "gates"}, "transform": [{"filter": "datum.plot==='C2'"}], "mark": {"type": "rule", "color": "#555", "strokeWidth": 0.8},
        "encoding": {"x": {"field": "gx", "type": "quantitative", "axis": null}, "y": {"datum": 1.4, "type": "quantitative", "axis": null}, "y2": {"datum": 5.42}}},
       {"data": {"name": "gates"}, "transform": [{"filter": "datum.plot==='C2'"}], "mark": {"type": "rule", "color": "#555", "strokeWidth": 0.8},
        "encoding": {"y": {"field": "gy", "type": "quantitative", "axis": null}, "x": {"datum": 1.7, "type": "quantitative", "axis": null}, "x2": {"datum": 5.2}}},
       {"data": {"name": "gates"}, "transform": [{"filter": "datum.plot==='C2'"}], "mark": {"type": "text", "align": "right", "baseline": "middle", "fontSize": 7, "fontWeight": "bold"},
        "encoding": {"x": {"datum": 5.0, "type": "quantitative", "axis": null}, "y": {"datum": 5.05, "type": "quantitative", "axis": null}, "text": {"field": "pct"}}}
     ]},
    {"width": 97, "height": 66, "resolve": {"axis": {"x": "independent", "y": "independent"}},
     "layer": [
       {"data": {"name": "one"}, "mark": {"type": "rect", "fillOpacity": 0, "stroke": "#555", "strokeWidth": 0.8},
        "encoding": {"x": {"datum": 1.7, "type": "quantitative", "scale": {"domain": [1.7, 6.109], "nice": false, "zero": false}, "axis": {"orient": "bottom", "values": [2, 3, 4, 5], "labelExpr": "'10' + ['⁰','¹','²','³','⁴','⁵'][datum.value]", "labelFontSize": 4.5, "domain": false, "ticks": false, "labelPadding": 1, "labelOverlap": false, "title": null, "labelColor": "#444"}},
                     "x2": {"datum": 5.2},
                     "y": {"datum": 1.4, "type": "quantitative", "scale": {"domain": [1.4, 5.42], "nice": false, "zero": false}, "axis": {"orient": "left", "values": [2, 3, 4, 5], "labelExpr": "'10' + ['⁰','¹','²','³','⁴','⁵'][datum.value]", "labelFontSize": 4.5, "domain": false, "ticks": false, "labelPadding": 1, "labelOverlap": false, "title": null, "labelColor": "#444"}},
                     "y2": {"datum": 5.42}}},
       {"data": {"name": "contours"}, "transform": [{"filter": "datum.plot==='C3'"}], "mark": {"type": "point", "shape": "M-0.8,0A0.8,1,0,1,1,0.8,0A0.8,1,0,1,1,-0.8,0Z", "filled": false, "stroke": "#000", "strokeWidth": 0.7, "opacity": 1},
        "encoding": {"x": {"field": "cx", "type": "quantitative", "axis": null}, "y": {"field": "cy", "type": "quantitative", "axis": null}, "size": {"field": "level", "type": "quantitative", "scale": {"domain": [1, 6], "range": [1800, 60]}, "legend": null}}},
       {"data": {"name": "dots"}, "transform": [{"filter": "datum.plot==='C3'"}], "mark": {"type": "circle", "size": 2, "color": "#000", "opacity": 0.9},
        "encoding": {"x": {"field": "x", "type": "quantitative", "axis": null}, "y": {"field": "y", "type": "quantitative", "axis": null}}},
       {"data": {"name": "gates"}, "transform": [{"filter": "datum.plot==='C3'"}], "mark": {"type": "rule", "color": "#555", "strokeWidth": 0.8},
        "encoding": {"x": {"field": "gx", "type": "quantitative", "axis": null}, "y": {"datum": 1.4, "type": "quantitative", "axis": null}, "y2": {"datum": 5.42}}},
       {"data": {"name": "gates"}, "transform": [{"filter": "datum.plot==='C3'"}], "mark": {"type": "rule", "color": "#555", "strokeWidth": 0.8},
        "encoding": {"y": {"field": "gy", "type": "quantitative", "axis": null}, "x": {"datum": 1.7, "type": "quantitative", "axis": null}, "x2": {"datum": 5.2}}},
       {"data": {"name": "gates"}, "transform": [{"filter": "datum.plot==='C3'"}], "mark": {"type": "text", "align": "right", "baseline": "middle", "fontSize": 7, "fontWeight": "bold"},
        "encoding": {"x": {"datum": 5.0, "type": "quantitative", "axis": null}, "y": {"datum": 5.05, "type": "quantitative", "axis": null}, "text": {"field": "pct"}}}
     ]},
    {"width": 108, "height": 66, "resolve": {"axis": {"x": "independent", "y": "independent"}},
     "layer": [
       {"data": {"name": "one"}, "mark": {"type": "rect", "fillOpacity": 0, "stroke": "#555", "strokeWidth": 0.8},
        "encoding": {"x": {"datum": 1.7, "type": "quantitative", "scale": {"domain": [1.7, 6.609], "nice": false, "zero": false}, "axis": {"orient": "bottom", "values": [2, 3, 4, 5], "labelExpr": "'10' + ['⁰','¹','²','³','⁴','⁵'][datum.value]", "labelFontSize": 4.5, "domain": false, "ticks": false, "labelPadding": 1, "labelOverlap": false, "title": null, "labelColor": "#444"}},
                     "x2": {"datum": 5.2},
                     "y": {"datum": 1.4, "type": "quantitative", "scale": {"domain": [1.4, 5.42], "nice": false, "zero": false}, "axis": {"orient": "left", "values": [2, 3, 4, 5], "labelExpr": "'10' + ['⁰','¹','²','³','⁴','⁵'][datum.value]", "labelFontSize": 4.5, "domain": false, "ticks": false, "labelPadding": 1, "labelOverlap": false, "title": null, "labelColor": "#444"}},
                     "y2": {"datum": 5.42}}},
       {"data": {"name": "contours"}, "transform": [{"filter": "datum.plot==='C4'"}], "mark": {"type": "point", "shape": "M-0.8,0A0.8,1,0,1,1,0.8,0A0.8,1,0,1,1,-0.8,0Z", "filled": false, "stroke": "#000", "strokeWidth": 0.7, "opacity": 1},
        "encoding": {"x": {"field": "cx", "type": "quantitative", "axis": null}, "y": {"field": "cy", "type": "quantitative", "axis": null}, "size": {"field": "level", "type": "quantitative", "scale": {"domain": [1, 6], "range": [1700, 60]}, "legend": null}}},
       {"data": {"name": "dots"}, "transform": [{"filter": "datum.plot==='C4'"}], "mark": {"type": "circle", "size": 2, "color": "#000", "opacity": 0.9},
        "encoding": {"x": {"field": "x", "type": "quantitative", "axis": null}, "y": {"field": "y", "type": "quantitative", "axis": null}}},
       {"data": {"name": "gates"}, "transform": [{"filter": "datum.plot==='C4'"}], "mark": {"type": "rule", "color": "#555", "strokeWidth": 0.8},
        "encoding": {"x": {"field": "gx", "type": "quantitative", "axis": null}, "y": {"datum": 1.4, "type": "quantitative", "axis": null}, "y2": {"datum": 5.42}}},
       {"data": {"name": "gates"}, "transform": [{"filter": "datum.plot==='C4'"}], "mark": {"type": "rule", "color": "#555", "strokeWidth": 0.8},
        "encoding": {"y": {"field": "gy", "type": "quantitative", "axis": null}, "x": {"datum": 1.7, "type": "quantitative", "axis": null}, "x2": {"datum": 5.2}}},
       {"data": {"name": "gates"}, "transform": [{"filter": "datum.plot==='C4'"}], "mark": {"type": "text", "align": "right", "baseline": "middle", "fontSize": 7, "fontWeight": "bold"},
        "encoding": {"x": {"datum": 5.0, "type": "quantitative", "axis": null}, "y": {"datum": 5.05, "type": "quantitative", "axis": null}, "text": {"field": "pct"}}}
     ]},
    {"width": 158, "height": 70, "resolve": {"axis": {"x": "independent", "y": "independent"}},
     "layer": [
       {"data": {"name": "bars"}, "transform": [{"filter": "datum.panel==='C'"}], "mark": {"type": "bar", "color": "#000"},
        "encoding": {"x": {"field": "group", "type": "nominal", "sort": null, "scale": {"domain": ["HBSS", "oHSV", "TGF-β+oHSV", "1D11+oHSV"], "paddingInner": 0.6, "paddingOuter": 0.6}, "axis": {"orient": "bottom", "title": null, "ticks": false, "labelAngle": 0, "labelFontSize": 5, "labelPadding": 4, "labelOverlap": false}},
                     "y": {"field": "value", "type": "quantitative", "scale": {"domain": [0, 30], "nice": false}, "axis": {"orient": "left", "values": [0, 5, 10, 15, 20, 25, 30], "labelFontSize": 5, "tickSize": 2, "labelOverlap": false, "title": ["CD69+ NK of total NK in", "inoculated hemisphere (%)"], "titleFontSize": 5.5, "titlePadding": 3}}}},
       {"data": {"name": "bars"}, "transform": [{"filter": "datum.panel==='C'"}], "mark": {"type": "rule", "color": "#000"},
        "encoding": {"x": {"field": "group", "type": "nominal", "sort": null, "axis": null}, "y": {"field": "value", "type": "quantitative", "axis": null}, "y2": {"field": "upper"}}},
       {"data": {"name": "bars"}, "transform": [{"filter": "datum.panel==='C'"}], "mark": {"type": "tick", "color": "#000", "size": 6, "thickness": 1},
        "encoding": {"x": {"field": "group", "type": "nominal", "sort": null, "axis": null}, "y": {"field": "upper", "type": "quantitative", "axis": null}}},
       {"data": {"name": "sig"}, "transform": [{"filter": "datum.panel==='C'"}], "mark": {"type": "rule", "color": "#333", "strokeWidth": 0.8, "xOffset": 2, "x2Offset": -2},
        "encoding": {"x": {"field": "from", "type": "nominal", "sort": null, "bandPosition": 0.5, "axis": null}, "x2": {"field": "to", "bandPosition": 0.5}, "y": {"field": "y", "type": "quantitative", "axis": null}}},
       {"data": {"name": "sig"}, "transform": [{"filter": "datum.panel==='C' && datum.kind==='adj'"}], "mark": {"type": "text", "color": "#000", "fontSize": 8, "baseline": "alphabetic", "dy": 2},
        "encoding": {"x": {"field": "at", "type": "nominal", "sort": null, "bandPosition": 1.75, "axis": null}, "y": {"field": "y", "type": "quantitative", "axis": null}, "text": {"field": "label"}}}
     ]}
   ],
   "columns": 6, "align": "each", "bounds": "flush", "spacing": {"row": 9, "column": 0}}
 ],
 "spacing": 8},
 {"hconcat": [
    {"width": 65, "height": 103, "data": {"name": "one"},
     "mark": {"type": "text", "text": "D", "fontSize": 14, "fontWeight": "bold", "align": "left", "baseline": "middle"},
     "encoding": {"x": {"datum": 0, "type": "quantitative", "scale": {"domain": [0, 1]}, "axis": null}, "y": {"datum": 1.0, "type": "quantitative", "scale": {"domain": [0, 1]}, "axis": null}}},
    {"width": 137, "height": 103, "resolve": {"axis": {"x": "independent", "y": "independent"}},
     "layer": [
       {"data": {"name": "bars"}, "transform": [{"filter": "datum.panel==='D'"}], "mark": {"type": "bar", "color": "#000"},
        "encoding": {"x": {"field": "group", "type": "nominal", "sort": null, "scale": {"domain": ["HBSS", "oHSV", "TGF-β+oHSV", "1D11+oHSV"], "paddingInner": 0.6, "paddingOuter": 0.2}, "axis": {"orient": "bottom", "title": null, "ticks": false, "labelAngle": 0, "labelFontSize": 6, "labelFontWeight": "bold", "labelPadding": 5, "labelOverlap": false}},
                     "y": {"field": "value", "type": "quantitative", "scale": {"domain": [0, 100], "nice": false}, "axis": {"orient": "left", "values": [0, 20, 40, 60, 80, 100], "labelFontSize": 8, "labelFontWeight": "bold", "tickSize": 3, "labelOverlap": false, "title": ["IFNγ+NK of total NK in", "inoculated hemisphere (%)"], "titleFontSize": 6, "titlePadding": 4}}}},
       {"data": {"name": "bars"}, "transform": [{"filter": "datum.panel==='D'"}], "mark": {"type": "rule", "color": "#000"},
        "encoding": {"x": {"field": "group", "type": "nominal", "sort": null, "axis": null}, "y": {"field": "value", "type": "quantitative", "axis": null}, "y2": {"field": "upper"}}},
       {"data": {"name": "bars"}, "transform": [{"filter": "datum.panel==='D'"}], "mark": {"type": "tick", "color": "#000", "size": 6, "thickness": 1},
        "encoding": {"x": {"field": "group", "type": "nominal", "sort": null, "axis": null}, "y": {"field": "upper", "type": "quantitative", "axis": null}}},
       {"data": {"name": "sig"}, "transform": [{"filter": "datum.panel==='D'"}], "mark": {"type": "rule", "color": "#333", "strokeWidth": 0.8, "xOffset": 2, "x2Offset": -2},
        "encoding": {"x": {"field": "from", "type": "nominal", "sort": null, "bandPosition": 0.5, "axis": null}, "x2": {"field": "to", "bandPosition": 0.5}, "y": {"field": "y", "type": "quantitative", "axis": null}}},
       {"data": {"name": "sig"}, "transform": [{"filter": "datum.panel==='D' && datum.kind==='adj'"}], "mark": {"type": "text", "color": "#000", "fontSize": 9, "baseline": "alphabetic", "dy": 2},
        "encoding": {"x": {"field": "at", "type": "nominal", "sort": null, "bandPosition": 1.75, "axis": null}, "y": {"field": "y", "type": "quantitative", "axis": null}, "text": {"field": "label"}}},
       {"data": {"name": "sig"}, "transform": [{"filter": "datum.panel==='D' && datum.kind==='mid'"}], "mark": {"type": "text", "color": "#000", "fontSize": 9, "baseline": "alphabetic", "dy": 2},
        "encoding": {"x": {"field": "at", "type": "nominal", "sort": null, "bandPosition": 0.5, "axis": null}, "y": {"field": "y", "type": "quantitative", "axis": null}, "text": {"field": "label"}}}
     ]},
    {"width": 50, "height": 103, "data": {"name": "one"},
     "mark": {"type": "text", "text": "E", "fontSize": 14, "fontWeight": "bold", "align": "left", "baseline": "middle"},
     "encoding": {"x": {"datum": 0, "type": "quantitative", "scale": {"domain": [0, 1]}, "axis": null}, "y": {"datum": 0.98, "type": "quantitative", "scale": {"domain": [0, 1]}, "axis": null}}},
    {"width": 155, "height": 105, "resolve": {"axis": {"x": "independent", "y": "independent"}},
     "layer": [
       {"data": {"name": "bars"}, "transform": [{"filter": "datum.panel==='E'"}], "mark": {"type": "bar", "color": "#000"},
        "encoding": {"x": {"field": "group", "type": "nominal", "sort": null, "scale": {"domain": ["HBSS", "oHSV", "TGF-β+oHSV", "1D11+oHSV"], "paddingInner": 0.6, "paddingOuter": 0.3}, "axis": {"orient": "bottom", "title": null, "ticks": false, "labelAngle": 0, "labelFontSize": 6, "labelFontWeight": "bold", "labelPadding": 4, "labelOverlap": false}},
                     "y": {"field": "value", "type": "quantitative", "scale": {"domain": [0, 12], "nice": false}, "axis": {"orient": "left", "values": [0, 2, 4, 6, 8, 10, 12], "labelFontSize": 8, "labelFontWeight": "bold", "tickSize": 3, "labelOverlap": false, "title": ["IFNγ mRNA expression", "versus GAPDH"], "titleFontSize": 6, "titlePadding": 4}}}},
       {"data": {"name": "bars"}, "transform": [{"filter": "datum.panel==='E'"}], "mark": {"type": "rule", "color": "#000"},
        "encoding": {"x": {"field": "group", "type": "nominal", "sort": null, "axis": null}, "y": {"field": "value", "type": "quantitative", "axis": null}, "y2": {"field": "upper"}}},
       {"data": {"name": "bars"}, "transform": [{"filter": "datum.panel==='E'"}], "mark": {"type": "tick", "color": "#000", "size": 6, "thickness": 1},
        "encoding": {"x": {"field": "group", "type": "nominal", "sort": null, "axis": null}, "y": {"field": "upper", "type": "quantitative", "axis": null}}},
       {"data": {"name": "sig"}, "transform": [{"filter": "datum.panel==='E'"}], "mark": {"type": "rule", "color": "#333", "strokeWidth": 0.8, "xOffset": 2, "x2Offset": -2},
        "encoding": {"x": {"field": "from", "type": "nominal", "sort": null, "bandPosition": 0.5, "axis": null}, "x2": {"field": "to", "bandPosition": 0.5}, "y": {"field": "y", "type": "quantitative", "axis": null}}},
       {"data": {"name": "sig"}, "transform": [{"filter": "datum.panel==='E' && datum.kind==='adj'"}], "mark": {"type": "text", "color": "#000", "fontSize": 9, "baseline": "alphabetic", "dy": 2},
        "encoding": {"x": {"field": "at", "type": "nominal", "sort": null, "bandPosition": 1.75, "axis": null}, "y": {"field": "y", "type": "quantitative", "axis": null}, "text": {"field": "label"}}},
       {"data": {"name": "sig"}, "transform": [{"filter": "datum.panel==='E' && datum.kind==='mid'"}], "mark": {"type": "text", "color": "#000", "fontSize": 9, "baseline": "alphabetic", "dy": 2},
        "encoding": {"x": {"field": "at", "type": "nominal", "sort": null, "bandPosition": 0.5, "axis": null}, "y": {"field": "y", "type": "quantitative", "axis": null}, "text": {"field": "label"}}}
     ]},
    {"width": 30, "height": 103, "data": {"name": "one"},
     "mark": {"type": "text", "text": "F", "fontSize": 14, "fontWeight": "bold", "align": "left", "baseline": "middle"},
     "encoding": {"x": {"datum": 0, "type": "quantitative", "scale": {"domain": [0, 1]}, "axis": null}, "y": {"datum": 1.0, "type": "quantitative", "scale": {"domain": [0, 1]}, "axis": null}}},
    {"width": 158, "height": 104, "resolve": {"axis": {"x": "independent", "y": "independent"}},
     "layer": [
       {"data": {"name": "bars"}, "transform": [{"filter": "datum.panel==='F'"}], "mark": {"type": "bar", "color": "#000"},
        "encoding": {"x": {"field": "group", "type": "nominal", "sort": null, "scale": {"domain": ["HBSS", "oHSV", "TGF-β+oHSV", "1D11+oHSV"], "paddingInner": 0.6, "paddingOuter": 0.7}, "axis": {"orient": "bottom", "title": null, "ticks": false, "labelAngle": 0, "labelFontSize": 5, "labelPadding": 4, "labelOverlap": false}},
                     "y": {"field": "value", "type": "quantitative", "scale": {"domain": [0, 25], "nice": false}, "axis": {"orient": "left", "values": [0, 5, 10, 15, 20, 25], "labelFontSize": 7, "tickSize": 3, "labelOverlap": false, "title": ["CD107a+ NK in total", "spleen NK (%)"], "titleFontSize": 6, "titlePadding": 4}}}},
       {"data": {"name": "bars"}, "transform": [{"filter": "datum.panel==='F'"}], "mark": {"type": "rule", "color": "#000"},
        "encoding": {"x": {"field": "group", "type": "nominal", "sort": null, "axis": null}, "y": {"field": "value", "type": "quantitative", "axis": null}, "y2": {"field": "upper"}}},
       {"data": {"name": "bars"}, "transform": [{"filter": "datum.panel==='F'"}], "mark": {"type": "tick", "color": "#000", "size": 6, "thickness": 1},
        "encoding": {"x": {"field": "group", "type": "nominal", "sort": null, "axis": null}, "y": {"field": "upper", "type": "quantitative", "axis": null}}},
       {"data": {"name": "sig"}, "transform": [{"filter": "datum.panel==='F'"}], "mark": {"type": "rule", "color": "#333", "strokeWidth": 0.8, "xOffset": 2, "x2Offset": -2},
        "encoding": {"x": {"field": "from", "type": "nominal", "sort": null, "bandPosition": 0.5, "axis": null}, "x2": {"field": "to", "bandPosition": 0.5}, "y": {"field": "y", "type": "quantitative", "axis": null}}},
       {"data": {"name": "sig"}, "transform": [{"filter": "datum.panel==='F' && datum.kind==='adj'"}], "mark": {"type": "text", "color": "#000", "fontSize": 9, "baseline": "alphabetic", "dy": 2},
        "encoding": {"x": {"field": "at", "type": "nominal", "sort": null, "bandPosition": 1.75, "axis": null}, "y": {"field": "y", "type": "quantitative", "axis": null}, "text": {"field": "label"}}},
       {"data": {"name": "sig"}, "transform": [{"filter": "datum.panel==='F' && datum.kind==='mid'"}], "mark": {"type": "text", "color": "#000", "fontSize": 9, "baseline": "alphabetic", "dy": 2},
        "encoding": {"x": {"field": "at", "type": "nominal", "sort": null, "bandPosition": 0.5, "axis": null}, "y": {"field": "y", "type": "quantitative", "axis": null}, "text": {"field": "label"}}}
     ]}
  ],
  "spacing": 0, "bounds": "flush"}
],
"spacing": 0
}
